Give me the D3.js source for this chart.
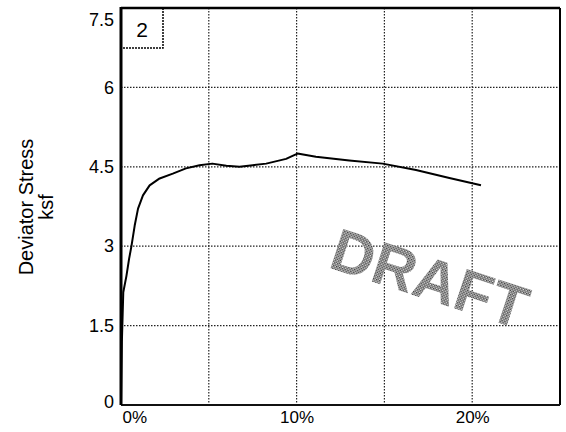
<!DOCTYPE html>
<html>
<head>
<meta charset="utf-8">
<script src="https://cdn.jsdelivr.net/npm/d3@7"></script>
<style>
  html, body { margin: 0; padding: 0; background: #fff; }
  svg { display: block; font-family: "Liberation Sans", Arial, sans-serif; }
</style>
</head>
<body>
<svg id="chart" width="566" height="432"></svg>
<script>
// Deviator stress (ksf) vs axial strain (%) for specimen 2
const strainPct = [0, 0.05, 0.13, 0.31, 0.46, 0.6, 0.78, 0.97, 1.25, 1.63, 2.2, 2.95, 3.7, 4.47,
                   5.2, 6.0, 6.75, 7.5, 8.27, 9.4, 10.05, 11.1, 13.0, 14.9, 16.8, 18.7, 20.5];
const deviatorStress = [0, 1.2, 2.13, 2.44, 2.76, 3.01, 3.39, 3.71, 3.96, 4.15, 4.28, 4.37, 4.47, 4.53,
                        4.56, 4.52, 4.5, 4.53, 4.56, 4.65, 4.75, 4.69, 4.62, 4.56, 4.44, 4.29, 4.15];
const yTicks = [0, 1.5, 3, 4.5, 6, 7.5];
const xGrid = [5, 10, 15, 20];
const xLabels = [0, 10, 20];
const specimenId = "2";
const watermark = "DRAFT";

const svg = d3.select("#chart");
const plotL = 121, plotR = 560, plotT = 8, plotB = 405;

const x = d3.scaleLinear().domain([0, 25]).range([plotL, plotR]);
const y = d3.scaleLinear().domain([0, 7.5]).range([plotB, plotT]);

// halftone fill for the stamp
const defs = svg.append("defs");
const pat = defs.append("pattern").attr("id", "halftone")
  .attr("width", 3).attr("height", 3).attr("patternUnits", "userSpaceOnUse");
pat.append("rect").attr("width", 3).attr("height", 3).attr("fill", "#ddd");
pat.append("rect").attr("width", 1.5).attr("height", 1.5).attr("fill", "#333");
pat.append("rect").attr("x", 1.5).attr("y", 1.5).attr("width", 1.5).attr("height", 1.5).attr("fill", "#444");

// gridlines
const grid = svg.append("g").attr("stroke", "#222").attr("stroke-width", 1.2)
  .attr("stroke-dasharray", "1.5,1.5");
grid.selectAll("line.h").data(yTicks.filter(d => d > 0 && d < 7.5)).join("line")
  .attr("class", "h")
  .attr("x1", plotL).attr("x2", plotR).attr("y1", d => y(d)).attr("y2", d => y(d));
grid.selectAll("line.v").data(xGrid).join("line")
  .attr("class", "v")
  .attr("y1", plotT).attr("y2", plotB).attr("x1", d => x(d)).attr("x2", d => x(d));

// stamp watermark
const mx = (x(11.5) + x(23.5)) / 2, my = y(2.3);
svg.append("text")
  .attr("transform", `translate(${mx},${my}) rotate(18)`)
  .attr("text-anchor", "middle").attr("dominant-baseline", "middle")
  .attr("font-size", 60).attr("font-weight", "bold")
  .attr("fill", "url(#halftone)")
  .text(watermark);

// stress-strain curve
const line = d3.line().x((d, i) => x(strainPct[i])).y(d => y(d)).curve(d3.curveLinear);
svg.append("path").datum(deviatorStress)
  .attr("fill", "none").attr("stroke", "#000").attr("stroke-width", 2)
  .attr("stroke-linejoin", "round")
  .attr("d", line);

// frame
svg.append("line").attr("x1", plotL).attr("x2", plotR).attr("y1", plotT).attr("y2", plotT)
  .attr("stroke", "#000").attr("stroke-width", 2.5);
svg.append("line").attr("x1", plotR).attr("x2", plotR).attr("y1", plotT).attr("y2", plotB)
  .attr("stroke", "#000").attr("stroke-width", 2);
svg.append("line").attr("x1", plotL).attr("x2", plotR).attr("y1", plotB).attr("y2", plotB)
  .attr("stroke", "#111").attr("stroke-width", 1.8);
svg.append("line").attr("x1", plotL).attr("x2", plotL).attr("y1", plotT - 1).attr("y2", plotB)
  .attr("stroke", "#000").attr("stroke-width", 3);

// y axis labels
const yAxis = d3.axisLeft(y).tickValues(yTicks).tickSize(0).tickPadding(7)
  .tickFormat(d3.format("~g"));
const gy = svg.append("g").attr("transform", `translate(${plotL},0)`).call(yAxis);
gy.select(".domain").remove();
gy.selectAll("text").attr("font-size", 18).attr("fill", "#000")
  .attr("font-family", "Liberation Sans, Arial, sans-serif")
  .attr("dy", d => d === 7.5 ? "0.95em" : d === 0 ? "0.15em" : "0.32em");

// x axis labels
const xAxis = d3.axisBottom(x).tickValues(xLabels).tickSize(0).tickPadding(6)
  .tickFormat(d => d + "%");
const gx = svg.append("g").attr("transform", `translate(0,${plotB})`).call(xAxis);
gx.select(".domain").remove();
gx.selectAll("text").attr("font-size", 17).attr("fill", "#000")
  .attr("font-family", "Liberation Sans, Arial, sans-serif")
  .attr("text-anchor", d => d === 0 ? "start" : "middle")
  .attr("dx", d => d === 0 ? "1" : "0");

// axis title
const title = svg.append("text")
  .attr("transform", "translate(33,207) rotate(-90)")
  .attr("text-anchor", "middle").attr("font-size", 20).attr("fill", "#000");
title.append("tspan").attr("x", 0).attr("dy", 0).text("Deviator Stress");
title.append("tspan").attr("x", 0).attr("dy", 20).text("ksf");

// specimen id box
const bx1 = plotL, bx2 = 163, by1 = plotT, by2 = 48;
svg.append("path")
  .attr("d", `M${bx2},${by1}V${by2}H${bx1}`)
  .attr("fill", "none").attr("stroke", "#000").attr("stroke-width", 1.5)
  .attr("stroke-dasharray", "2,1");
svg.append("text").attr("x", (bx1 + bx2) / 2).attr("y", 37)
  .attr("text-anchor", "middle").attr("font-size", 21).attr("fill", "#000")
  .text(specimenId);
</script>
</body>
</html>
